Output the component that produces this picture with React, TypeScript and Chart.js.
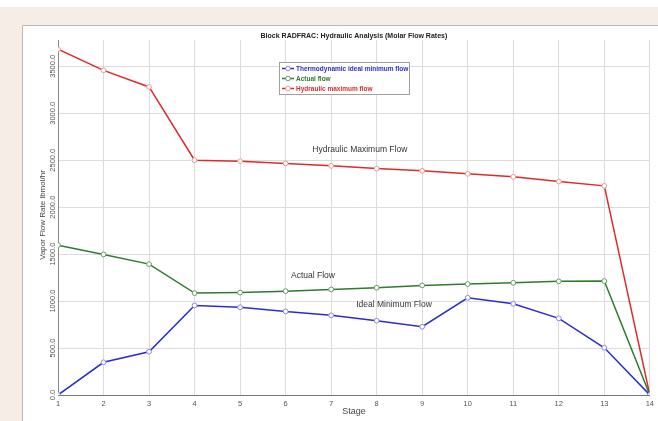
import { useEffect, useRef } from "react";
import { Chart, registerables } from "chart.js";

Chart.register(...registerables);

// Column stages (top to bottom)
const stages = [1, 2, 3, 4, 5, 6, 7, 8, 9, 10, 11, 12, 13, 14];

// Vapor flow rates per stage, lbmol/hr
const idealMinimumFlow = [0, 348, 461, 954, 934, 890, 848, 791, 727, 1035, 971, 816, 503, 0];
const actualFlow = [1596, 1497, 1394, 1085, 1091, 1106, 1124, 1142, 1167, 1181, 1195, 1210, 1213, 0];
const hydraulicMaximumFlow = [3681, 3457, 3280, 2500, 2490, 2465, 2440, 2411, 2387, 2355, 2323, 2273, 2227, 0];

// Axis ticks
const yTickValues = [0, 500, 1000, 1500, 2000, 2500, 3000, 3500];
const yAxisMax = 3780;

const seriesNames = [
  "Thermodynamic ideal minimum flow",
  "Actual flow",
  "Hydraulic maximum flow",
];
const seriesColors = ["#2b2bd6", "#2f7a2f", "#dd2b2b"];
const markerColors = ["#8a8ae8", "#6a9a6a", "#ee9a9a"];

const chartTitle = "Block RADFRAC: Hydraulic Analysis (Molar Flow Rates)";
const yAxisTitle = "Vapor Flow Rate lbmol/hr";
const xAxisTitle = "Stage";

// Captions placed next to each curve, in data coordinates
const curveNotes = [
  { text: "Hydraulic Maximum Flow", stage: 7.63, value: 2617 },
  { text: "Actual Flow", stage: 6.6, value: 1266 },
  { text: "Ideal Minimum Flow", stage: 8.38, value: 957 },
];

const FONT = "'Liberation Sans', Arial, sans-serif";
const fmt = (v: number) => v.toFixed(1);

const framePlugin = {
  id: "frame",
  beforeDraw(chart: any) {
    const { ctx, width, height } = chart;
    ctx.save();
    ctx.fillStyle = "#ffffff";
    ctx.fillRect(0, 0, width, height);
    ctx.fillStyle = "#f5ede6";
    ctx.fillRect(0, 7, width, height - 7);
    ctx.fillStyle = "#ffffff";
    ctx.fillRect(22, 25, width - 22, height - 25);
    ctx.strokeStyle = "#b8b8b8";
    ctx.lineWidth = 1;
    ctx.beginPath();
    ctx.moveTo(22.5, height);
    ctx.lineTo(22.5, 25.5);
    ctx.lineTo(width, 25.5);
    ctx.stroke();
    ctx.restore();
  },
  afterDraw(chart: any) {
    const { ctx, chartArea } = chart;
    const xs = chart.scales.x;
    const ys = chart.scales.y;
    ctx.save();

    // title
    ctx.fillStyle = "#222";
    ctx.font = `bold 7px ${FONT}`;
    ctx.textAlign = "center";
    ctx.textBaseline = "middle";
    ctx.fillText(chartTitle, (chartArea.left + chartArea.right) / 2, 36);

    // y tick labels, rotated
    ctx.font = `7.5px ${FONT}`;
    ctx.fillStyle = "#555";
    ys.ticks.forEach((t: any) => {
      const py = ys.getPixelForValue(t.value);
      ctx.save();
      ctx.translate(chartArea.left - 5, py);
      ctx.rotate(-Math.PI / 2);
      ctx.textAlign = "center";
      ctx.textBaseline = "middle";
      ctx.fillText(fmt(t.value), 0, 0);
      ctx.restore();
    });

    // y axis title
    ctx.save();
    ctx.font = `8px ${FONT}`;
    ctx.fillStyle = "#444";
    ctx.translate(chartArea.left - 15, 215);
    ctx.rotate(-Math.PI / 2);
    ctx.textAlign = "center";
    ctx.textBaseline = "middle";
    ctx.fillText(yAxisTitle, 0, 0);
    ctx.restore();

    // curve captions
    ctx.font = `8.5px ${FONT}`;
    ctx.fillStyle = "#333";
    ctx.textAlign = "center";
    ctx.textBaseline = "middle";
    curveNotes.forEach((n) => {
      ctx.fillText(n.text, xs.getPixelForValue(n.stage), ys.getPixelForValue(n.value));
    });

    // legend box
    const lx = 279;
    const ly = 62;
    const lw = 130;
    const lh = 32;
    ctx.fillStyle = "#ffffff";
    ctx.fillRect(lx, ly, lw, lh);
    ctx.strokeStyle = "#a0a0a0";
    ctx.lineWidth = 1;
    ctx.strokeRect(lx + 0.5, ly + 0.5, lw, lh);
    ctx.font = `bold 6.5px ${FONT}`;
    ctx.textAlign = "left";
    chart.data.datasets.forEach((ds: any, i: number) => {
      const y = ly + 6.5 + i * 10;
      ctx.strokeStyle = ds.borderColor;
      ctx.lineWidth = 1.5;
      ctx.beginPath();
      ctx.moveTo(lx + 3, y);
      ctx.lineTo(lx + 15, y);
      ctx.stroke();
      ctx.beginPath();
      ctx.arc(lx + 9, y, 2.3, 0, Math.PI * 2);
      ctx.fillStyle = "#fff";
      ctx.fill();
      ctx.lineWidth = 1;
      ctx.strokeStyle = ds.pointBorderColor;
      ctx.stroke();
      ctx.fillStyle = ds.borderColor;
      ctx.fillText(ds.label, lx + 17, y + 0.5);
    });

    ctx.restore();
  },
};

export default function App() {
  const canvasRef = useRef<HTMLCanvasElement | null>(null);

  useEffect(() => {
    if (!canvasRef.current) return;
    const series = [idealMinimumFlow, actualFlow, hydraulicMaximumFlow];
    const chart = new Chart(canvasRef.current, {
      type: "line",
      data: {
        datasets: series.map((vals, i) => ({
          label: seriesNames[i],
          data: stages.map((s, k) => ({ x: s, y: vals[k] })),
          borderColor: seriesColors[i],
          borderWidth: 1.5,
          pointRadius: 2.4,
          pointBackgroundColor: "#ffffff",
          pointBorderColor: markerColors[i],
          pointBorderWidth: 1,
          tension: 0,
        })),
      },
      options: {
        responsive: false,
        animation: false,
        devicePixelRatio: 1,
        layout: { padding: { left: 58, top: 40, right: 8, bottom: 0 } },
        plugins: {
          legend: { display: false },
          title: { display: false },
          tooltip: { enabled: false },
        },
        scales: {
          x: {
            type: "linear",
            min: 1,
            max: 14,
            ticks: {
              stepSize: 1,
              color: "#555",
              font: { family: FONT, size: 7.5 },
              padding: 4,
              maxRotation: 0,
            },
            grid: { color: "#dcdcdc", drawTicks: false },
            border: { color: "#777", width: 1 },
            title: {
              display: true,
              text: xAxisTitle,
              color: "#444",
              font: { family: FONT, size: 9 },
              padding: { top: 0, bottom: 4 },
            },
            afterFit: (scale: any) => {
              scale.height = 26;
            },
          },
          y: {
            type: "linear",
            min: 0,
            max: yAxisMax,
            afterBuildTicks: (scale: any) => {
              scale.ticks = yTickValues.map((v) => ({ value: v }));
            },
            ticks: { display: false },
            grid: { color: "#dcdcdc", drawTicks: false },
            border: { color: "#888", width: 1 },
            afterFit: (scale: any) => {
              scale.width = 0;
            },
          },
        },
      },
      plugins: [framePlugin],
    });
    return () => chart.destroy();
  }, []);

  return (
    <div style={{ position: "absolute", left: 0, top: 0, width: 658, height: 421 }}>
      <canvas ref={canvasRef} width={658} height={421} />
    </div>
  );
}
